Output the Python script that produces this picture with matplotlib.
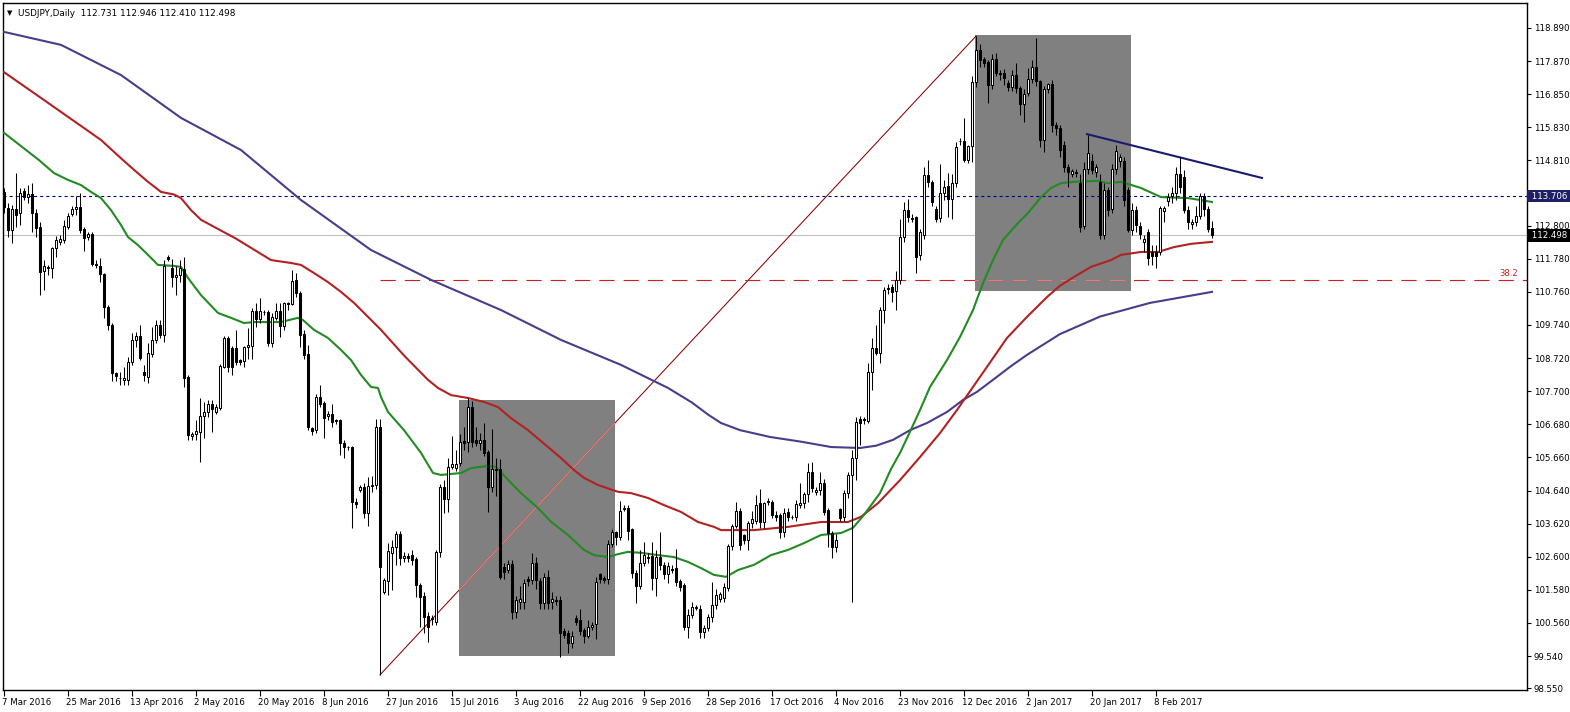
import matplotlib
matplotlib.use("Agg")
import matplotlib.pyplot as plt
from matplotlib.patches import Rectangle
import matplotlib.transforms as mtrans
import numpy as np

plt.rcParams['font.family'] = ['DejaVu Sans']
plt.rcParams['lines.scale_dashes'] = False

# ---------------- data (USDJPY daily, bar index 0 = 7 Mar 2016) ----------------
opens = [
 113.84,113.34,112.67,113.31,113.19,113.87,113.68,113.78,113.19,112.76,
 111.40,111.53,111.50,112.11,112.30,112.36,112.76,113.16,113.31,113.38,
 112.70,112.45,112.54,111.60,111.56,111.31,110.29,109.74,108.26,108.10,
 108.05,108.05,108.60,109.28,109.40,108.30,108.13,108.85,109.28,109.74,
 109.43,111.83,111.50,111.22,111.28,111.47,108.14,106.32,106.38,106.44,
 106.93,107.06,107.30,107.06,107.18,108.45,109.34,109.03,109.03,108.65,
 108.62,109.06,109.09,110.17,109.92,110.14,110.14,109.18,109.95,110.17,
 109.71,110.42,110.40,111.12,110.72,109.46,108.84,106.56,106.50,107.52,
 107.33,106.93,107.00,106.82,106.80,106.10,105.99,105.97,104.30,104.66,
 104.74,103.95,104.79,104.81,106.60,101.52,101.85,102.72,102.90,103.30,
 102.56,102.63,102.65,102.52,101.72,101.39,100.77,100.68,100.60,102.75,
 104.75,104.38,105.37,105.33,105.49,106.17,106.13,107.21,106.20,106.10,
 106.20,105.83,104.75,105.30,105.30,102.28,102.19,102.38,100.90,101.20,
 101.20,101.90,101.88,102.41,101.85,101.17,101.97,101.20,101.27,101.27,
 100.30,100.26,99.94,100.70,100.65,100.34,100.16,100.43,100.52,102.07,
 101.95,101.90,102.99,103.36,103.20,104.08,104.10,103.45,102.10,101.70,
 102.40,102.60,102.62,101.94,102.60,102.35,102.07,102.22,102.25,101.85,
 101.73,100.43,100.80,101.05,101.00,100.28,100.40,100.74,101.11,101.30,
 101.33,101.64,102.93,103.55,104.00,103.27,103.12,103.64,103.70,104.25,
 103.67,104.31,104.28,103.88,103.88,103.36,103.98,103.83,103.82,104.20,
 104.25,104.53,105.21,104.60,104.65,104.88,104.04,103.33,102.90,104.07,
 103.82,104.56,105.12,105.64,106.84,106.83,106.78,108.29,109.03,108.87,
 110.20,110.87,110.90,110.80,111.13,112.45,113.28,113.05,113.06,111.90,
 112.52,114.36,114.14,113.31,113.03,113.80,114.02,113.62,114.12,115.42,
 115.42,114.82,115.25,117.23,118.21,117.93,117.84,117.13,117.93,117.50,
 117.50,117.20,117.07,117.44,117.04,116.55,116.89,117.32,117.69,117.26,
 115.44,117.00,117.16,115.90,115.80,115.30,114.60,114.40,114.45,114.10,
 112.79,114.55,114.80,114.45,114.15,112.50,113.90,113.31,114.55,114.80,
 114.80,113.90,112.67,113.28,112.80,112.30,112.60,112.00,112.00,111.99,
 113.25,113.55,113.70,113.80,114.40,114.30,113.28,112.85,112.90,113.10,
 113.70,113.30,112.731]
highs = [
 113.95,113.50,113.44,114.42,113.96,113.95,114.05,114.10,113.30,112.90,
 111.74,111.60,112.14,112.48,112.50,112.98,113.20,113.40,113.71,113.81,
 112.76,112.60,112.60,111.75,111.80,111.35,110.35,109.80,108.30,108.30,
 108.44,108.75,109.49,109.52,109.74,108.50,109.18,109.68,109.90,109.90,
 111.74,111.90,111.77,111.56,111.74,111.83,108.20,106.45,106.81,107.49,
 107.37,107.43,107.43,107.30,108.54,109.40,109.40,109.10,109.60,108.70,
 109.10,109.65,110.26,110.42,110.57,110.20,110.20,110.10,110.42,110.42,
 110.45,110.45,111.43,111.34,110.80,109.60,109.12,106.60,107.60,107.89,
 107.40,107.10,107.30,106.85,106.85,106.20,106.00,106.00,104.40,104.80,
 104.87,105.05,105.10,106.84,106.84,101.95,103.03,103.10,103.40,103.40,
 102.75,102.70,102.80,102.60,101.80,101.50,100.90,100.80,102.80,104.85,
 104.96,105.64,106.32,105.90,106.38,106.60,107.49,107.40,106.60,106.40,
 106.73,105.90,106.54,105.64,105.60,102.40,102.50,102.50,101.40,101.70,
 101.90,102.00,102.70,102.60,101.95,102.10,102.20,101.50,101.40,101.40,
 100.40,100.35,100.30,100.80,101.00,100.40,100.65,100.60,101.97,102.10,
 102.00,103.10,103.45,103.40,104.31,104.20,104.20,103.50,102.20,102.80,
 103.06,102.70,103.06,102.80,103.36,102.45,102.45,102.35,102.85,101.90,
 101.80,101.00,101.20,101.10,101.10,100.50,100.85,101.82,101.60,101.50,
 101.80,103.00,103.60,104.30,104.10,103.30,103.70,104.00,104.50,104.70,
 104.30,104.40,104.35,104.00,103.95,104.10,104.10,103.90,104.35,104.87,
 104.60,105.49,105.52,104.75,105.21,105.00,104.10,103.40,103.30,104.10,
 104.65,105.20,105.89,106.90,106.93,106.90,108.57,109.34,109.74,110.30,
 110.90,111.00,111.00,111.40,113.00,113.53,113.62,113.15,113.10,112.70,
 114.60,114.82,114.20,113.40,114.70,114.20,114.42,114.38,115.38,115.50,
 116.12,115.30,117.40,118.64,118.40,118.00,117.90,118.10,118.12,117.60,
 117.62,117.30,117.60,117.81,117.10,117.00,117.66,117.90,118.58,117.30,
 117.10,117.20,117.30,116.00,115.90,115.40,114.70,114.55,114.55,114.40,
 114.75,115.59,115.00,114.70,114.40,114.10,114.00,114.70,115.30,115.00,
 114.90,114.00,113.50,113.40,112.90,112.50,112.70,112.20,112.20,113.40,
 113.40,113.80,114.00,114.60,114.90,114.50,113.40,113.00,113.40,113.80,
 113.80,113.40,112.946]
lows = [
 113.20,112.45,112.27,112.76,112.82,113.60,113.50,112.60,112.45,110.66,
 110.82,111.28,111.19,111.83,112.20,112.27,112.70,113.10,113.13,112.57,
 112.02,112.35,111.56,111.50,111.06,109.95,109.60,108.00,108.00,107.90,
 107.90,107.90,108.50,109.06,108.66,108.00,107.95,108.75,109.20,109.35,
 109.22,111.70,110.90,110.66,111.06,107.83,106.20,106.20,106.20,105.52,
 106.26,106.90,106.45,107.00,107.12,108.40,108.30,108.20,108.50,108.50,
 108.45,108.70,108.70,109.68,109.80,110.05,109.09,109.05,109.90,109.37,
 109.60,110.20,110.35,110.60,109.06,108.70,106.50,106.35,106.40,107.20,
 106.26,106.80,106.60,106.70,105.73,105.64,105.90,103.50,104.10,104.60,
 103.80,103.55,104.60,104.70,98.96,101.45,101.42,101.58,102.35,102.35,
 102.45,102.45,102.35,101.35,100.43,100.25,99.97,100.50,100.50,102.60,
 103.95,103.98,105.30,105.25,105.40,105.90,105.83,105.98,106.00,105.90,
 105.70,103.98,104.60,104.47,101.90,101.90,102.10,100.68,100.70,101.00,
 101.00,101.70,101.75,101.60,100.99,101.00,101.00,101.00,101.10,99.51,
 100.10,99.63,99.80,100.50,100.20,99.94,100.10,100.35,100.06,101.80,
 101.80,101.75,102.90,102.95,103.10,104.00,103.12,101.95,101.17,101.60,
 102.30,102.40,101.57,101.40,102.20,101.90,101.80,102.10,101.70,101.55,
 100.34,100.10,100.70,100.95,100.10,100.10,100.30,100.60,101.00,101.20,
 101.20,101.55,102.80,103.50,102.80,103.00,102.80,103.50,103.60,103.50,
 103.50,104.20,103.80,103.70,103.18,103.20,103.70,103.75,103.70,104.10,
 104.10,104.29,104.60,104.50,104.50,103.90,102.90,102.56,102.75,103.70,
 103.70,104.40,101.20,104.96,106.04,106.70,106.72,107.74,108.80,108.57,
 109.80,110.70,110.45,110.20,111.00,112.30,112.90,112.90,111.34,111.75,
 112.40,114.00,113.40,112.90,112.90,113.60,113.07,113.00,114.00,115.30,
 114.76,114.72,114.76,117.07,117.70,117.70,116.58,117.00,117.40,117.30,
 117.13,116.95,116.95,116.90,116.21,115.99,116.80,117.20,117.10,115.22,
 115.07,116.90,115.70,115.60,114.90,114.45,114.00,114.30,114.30,112.60,
 112.70,114.40,114.40,114.30,112.40,112.40,113.10,113.20,114.40,114.60,
 113.40,112.60,112.50,112.60,112.40,112.00,111.60,111.60,111.50,111.90,
 112.90,113.40,113.50,113.60,113.80,113.20,112.70,112.70,112.80,113.00,
 113.10,112.60,112.410]
closes = [
 113.38,112.67,113.31,113.13,113.81,113.68,113.78,113.19,112.73,111.37,
 111.56,111.50,112.11,112.36,112.39,112.79,113.10,113.31,113.38,112.67,
 112.42,112.54,111.62,111.59,111.31,110.29,109.74,108.26,108.17,108.12,
 108.10,108.60,109.28,109.40,108.72,108.20,108.88,109.28,109.74,109.43,
 111.56,111.77,111.22,111.28,111.50,108.10,106.35,106.38,106.47,106.93,
 107.06,107.30,107.15,107.21,108.48,109.34,108.45,108.45,108.60,108.60,
 109.06,109.12,110.17,109.92,110.17,110.15,109.18,109.98,110.17,109.71,
 110.42,110.40,111.10,110.72,109.43,108.80,106.60,106.47,107.52,107.30,
 106.87,107.00,106.75,106.78,106.10,105.97,105.97,104.28,104.22,104.75,
 103.95,104.78,104.82,106.60,102.28,101.88,102.78,102.90,103.30,102.56,
 102.63,102.56,102.50,101.72,101.36,100.74,100.43,100.70,102.75,104.75,
 104.38,105.37,105.46,105.46,106.13,106.10,107.21,106.13,106.10,106.20,
 105.80,104.75,105.30,105.28,101.97,102.13,102.38,100.90,101.27,101.30,
 101.80,101.85,102.41,101.88,101.17,101.97,101.17,101.30,101.25,100.26,
 100.20,99.94,100.16,100.60,100.31,100.16,100.43,100.50,101.82,101.90,
 101.88,102.99,103.36,103.20,104.00,104.10,103.39,102.10,101.70,102.40,
 102.65,102.55,101.94,102.60,102.35,102.07,102.32,102.20,101.82,101.67,
 100.43,100.80,101.05,101.03,100.28,100.40,100.74,101.11,101.42,101.45,
 101.67,102.93,103.55,104.00,102.96,103.12,103.64,103.76,104.19,103.67,
 104.25,104.30,103.88,103.82,103.36,103.95,103.82,103.82,104.22,104.25,
 104.53,105.20,104.72,104.65,104.88,103.98,103.33,102.90,103.12,103.79,
 104.56,105.12,105.64,106.75,106.72,106.80,108.29,109.03,108.87,110.20,
 110.82,110.85,110.75,111.13,112.45,113.28,113.07,113.00,111.83,112.60,
 114.36,114.14,113.53,113.00,113.80,114.00,113.62,114.12,115.22,115.40,
 114.82,115.25,117.23,118.21,117.90,117.82,117.13,117.93,117.50,117.48,
 117.35,117.07,117.44,117.04,116.55,116.86,117.32,117.69,117.26,115.44,
 117.01,117.16,115.90,115.80,115.13,114.60,114.44,114.47,114.43,112.76,
 114.55,115.04,114.50,114.60,112.50,113.90,113.28,114.55,115.10,114.90,
 113.60,112.67,113.28,112.82,112.55,112.40,111.80,111.85,111.85,113.34,
 113.34,113.68,113.80,114.40,114.00,113.28,112.90,112.92,113.10,113.70,
 113.30,112.70,112.498]

# moving averages: (bar index, price)
ma_fast = [(0,115.66),(8.75,114.82),(12.5,114.42),(16,114.21),(19.25,114.05),(21.75,113.84),
 (24.25,113.65),(26.75,113.28),(29.25,112.82),(31,112.45),(33.5,112.20),(36,111.90),(38.5,111.59),
 (42.5,111.56),(44.25,111.53),(46,111.19),(49.25,110.66),(53.5,110.11),(56.75,109.96),(60,109.80),
 (62.5,109.83),(69.25,109.83),(73.5,109.96),(74.75,109.89),(77.5,109.59),(81,109.34),(84.25,108.97),
 (86.75,108.66),(89.25,108.20),(91.75,107.83),(93.5,107.80),(94.25,107.52),(96,107.06),(100,106.50),
 (104.25,105.80),(107.25,105.18),(109.25,105.12),(114.25,105.18),(116.75,105.33),(121,105.40),
 (123,105.37),(126,104.97),(129.25,104.56),(133.5,104.10),(136.75,103.68),(141,103.27),(145,102.81),
 (147.5,102.65),(151,102.59),(153.5,102.68),(156,102.75),(159.25,102.72),(163.5,102.65),(167.5,102.59),
 (171,102.44),(174.25,102.25),(177.5,102.04),(180.5,101.98),(183.5,102.19),(187.5,102.35),
 (191.75,102.65),(196,102.81),(200,103.02),(204.25,103.27),(209.25,103.33),(212.25,103.49),
 (215,103.89),(219,104.56),(221.75,105.30),(224,105.80),(226.5,106.45),(229,107.12),(231.5,107.83),
 (235.75,108.66),(239,109.37),(242.25,110.20),(244.75,111.03),(247.25,111.74),(249.75,112.36),
 (253.5,112.88),(256,113.19),(259.25,113.68),(261.75,113.96),(264.25,114.11),(267.5,114.15),
 (273.5,114.18),(276,114.11),(279.25,114.15),(284.25,113.96),(289.25,113.68),(296,113.65),(302,113.53)]
ma_mid = [(0,117.53),(11.75,116.52),(24.25,115.44),(29.75,114.82),(32.5,114.52),(36,114.15),
 (39.25,113.84),(42.5,113.76),(44.25,113.65),(46.75,113.28),(49.25,112.98),(58,112.40),(66.75,111.74),
 (71.75,111.65),(74.25,111.59),(77.5,111.34),(81,111.06),(84.25,110.76),(87.5,110.42),(91,109.99),
 (94.25,109.59),(100,108.80),(106,108.05),(108.5,107.80),(111.75,107.58),(116,107.49),(120,107.37),
 (123.5,107.21),(126.75,106.87),(131,106.50),(136,105.98),(139.25,105.64),(142.5,105.27),(145,105.03),
 (148.5,104.81),(153.5,104.60),(156.75,104.56),(161,104.41),(165,104.19),(169.25,103.98),
 (173.5,103.67),(177.5,103.52),(179.25,103.42),(187.5,103.42),(196,103.52),(204.25,103.67),
 (211,103.67),(214.25,103.83),(218.5,104.25),(224,104.96),(229,105.67),(234,106.41),(238.25,107.12),
 (242.25,107.83),(245.75,108.45),(250.75,109.34),(255.75,109.99),(260.75,110.60),(264,110.95),
 (267.5,111.22),(271.75,111.53),(276.75,111.74),(279.25,111.90),(284.25,111.99),(288.5,111.99),
 (292.5,112.14),(296.75,112.24),(302,112.30)]
ma_slow = [(0,118.77),(14.25,118.37),(29.25,117.44),(44.25,116.12),(59.25,115.13),(74.25,113.59),
 (91.75,112.05),(106.75,111.13),(124.25,110.20),(139.25,109.28),(154.25,108.51),(166,107.80),
 (172,107.35),(176,106.98),(179.25,106.72),(184,106.50),(191.5,106.29),(199.5,106.14),(206.75,105.98),
 (214,105.95),(218,106.02),(222.25,106.20),(226.5,106.50),(230.75,106.72),(235.75,107.06),
 (239.75,107.43),(243.25,107.68),(247.25,108.05),(251.5,108.45),(255.75,108.82),(259.75,109.13),
 (264,109.46),(274,110.00),(286.5,110.42),(302,110.76)]

date_labels = ['7 Mar 2016','25 Mar 2016','13 Apr 2016','2 May 2016','20 May 2016','8 Jun 2016',
               '27 Jun 2016','15 Jul 2016','3 Aug 2016','22 Aug 2016','9 Sep 2016','28 Sep 2016',
               '17 Oct 2016','4 Nov 2016','23 Nov 2016','12 Dec 2016','2 Jan 2017','20 Jan 2017',
               '8 Feb 2017']
date_idx = [0,16,32,48,64,80,96,112,128,144,160,176,192,208,224,240,256,272,288]
price_ticks = [118.890,117.870,116.850,115.830,114.810,112.800,111.780,110.760,109.740,108.720,
               107.700,106.680,105.660,104.640,103.620,102.600,101.580,100.560,99.540,98.550]

ask_line = 113.706
last_close = 112.498
title = 'USDJPY,Daily  112.731 112.946 112.410 112.498'

# fibonacci anchors (bar, price)
fib_low = (94, 98.96)
fib_high = (243, 118.64)
fib_level = 38.2
# rectangles (bar0, bar1, price_low, price_high)
rects = [(113.75, 152.75, 99.54, 107.43), (242.75, 281.75, 110.79, 118.67)]
# trend line (bar, price)
trend = [(270.75, 115.62), (314.5, 114.27)]

# ---------------- figure ----------------
W, H = 1570, 712
fig = plt.figure(figsize=(W/100, H/100), dpi=100)
L, R, T, B = 3, 1527, 3, 690
ax = fig.add_axes([L/W, (H-B)/H, (R-L)/W, (B-T)/H])
ax.set_xlim(-0.25, (R-4)/4)
ax.set_ylim(98.494, 119.66)
for s in ax.spines.values():
    s.set_color('black'); s.set_linewidth(1.0)

# rectangles
rect_patches = []
for (x0, x1, y0, y1) in rects:
    rp = Rectangle((x0, y0), x1-x0, y1-y0, facecolor='#808080', edgecolor='none', zorder=1)
    ax.add_patch(rp)
    rect_patches.append(rp)

# horizontal lines
ax.axhline(last_close, color='#c0c0c0', lw=0.8, zorder=0.5)
ax.axhline(ask_line, color='#000080', lw=0.8, dashes=(2.2, 2.2), zorder=2)

# fib
fx = [fib_low[0], fib_high[0]]
fy = [fib_low[1], fib_high[1]]
ax.plot(fx, fy, color='#8b0000', lw=0.75, zorder=2)
pl, = ax.plot(fx, fy, color='#f08a8a', lw=0.8, zorder=2.1)
pl.set_clip_path(rect_patches[0])
lvl = fib_high[1] - (fib_high[1]-fib_low[1])*fib_level/100
ax.plot([fib_low[0], (R-4)/4], [lvl, lvl], color='#cc2020', lw=0.8, dashes=(11, 6.5), zorder=2)
pl2, = ax.plot([fib_low[0], (R-4)/4], [lvl, lvl], color='#e87a7a', lw=0.8, dashes=(11, 6.5), zorder=2.1)
pl2.set_clip_path(rect_patches[1])
ax.text(0.994, lvl + 0.08, '38.2', transform=mtrans.blended_transform_factory(ax.transAxes, ax.transData),
        ha='right', va='bottom', color='#cc2020', fontsize=6)

# moving averages
for ma, col in [(ma_slow, '#483d8b'), (ma_mid, '#b22222'), (ma_fast, '#228b22')]:
    xs = [p[0] for p in ma]; ys = [p[1] for p in ma]
    ax.plot(xs, ys, color=col, lw=1.5, zorder=3, solid_joinstyle='round')

# trend line
ax.plot([trend[0][0], trend[1][0]], [trend[0][1], trend[1][1]], color='#1a1a70', lw=1.5, zorder=3)

# candles
o = np.array(opens); h = np.array(highs); l = np.array(lows); c = np.array(closes)
x = np.arange(len(o))
ax.vlines(x, l, h, color='black', lw=0.75, zorder=4)
up = c >= o
lo = np.minimum(o, c)
hh = np.maximum(np.abs(c - o), 0.015)
ax.bar(x[up], hh[up], bottom=lo[up], width=0.5, facecolor='white', edgecolor='black', linewidth=0.75, zorder=5)
ax.bar(x[~up], hh[~up], bottom=lo[~up], width=0.5, facecolor='black', edgecolor='black', linewidth=0.75, zorder=5)

# axes ticks
ax.yaxis.tick_right()
ax.set_yticks(price_ticks)
ax.set_yticklabels(['%.3f' % v for v in price_ticks])
ax.tick_params(axis='y', direction='out', length=3, width=0.8, pad=2, labelsize=6.2, colors='black')
ax.set_xticks(date_idx)
ax.set_xticklabels(date_labels, ha='left')
ax.tick_params(axis='x', direction='out', length=4, width=0.8, pad=2, labelsize=6.2)
offset = mtrans.ScaledTranslation(-2/100, 0, fig.dpi_scale_trans)
for lab in ax.get_xticklabels():
    lab.set_horizontalalignment('left')
    lab.set_transform(lab.get_transform() + offset)

# price boxes on the axis
bt = mtrans.blended_transform_factory(ax.transAxes, ax.transData)
ax.text(1.0013, ask_line, ' 113.706 ', transform=bt, ha='left', va='center', color='white', fontsize=6.2,
        bbox=dict(boxstyle='square,pad=0.18', fc='#1f1f66', ec='none'), zorder=10, clip_on=False)
ax.text(1.0013, last_close, ' 112.498 ', transform=bt, ha='left', va='center', color='white', fontsize=6.2,
        bbox=dict(boxstyle='square,pad=0.18', fc='black', ec='none'), zorder=10, clip_on=False)

# title
ax.text(4/(R-L), 1 - 10/(B-T), '\u25BC', transform=ax.transAxes, ha='left', va='center', fontsize=5, color='black')
ax.text(15/(R-L), 1 - 10/(B-T), title, transform=ax.transAxes, ha='left', va='center', fontsize=6.4, color='black')

fig.savefig('out.png', dpi=100, facecolor='white')
